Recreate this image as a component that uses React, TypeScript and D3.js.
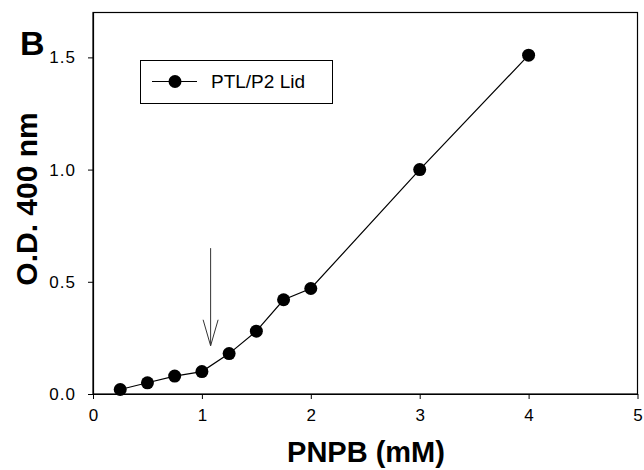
import React, { useRef, useEffect } from "react";
import * as d3 from "d3";

// PNPB concentration (mM) and absorbance
const pnpb = [0.25, 0.5, 0.75, 1.0, 1.25, 1.5, 1.75, 2.0, 3.0, 4.0];
const od400 = [0.02, 0.05, 0.08, 0.1, 0.18, 0.28, 0.42, 0.47, 1.0, 1.51];
const xTicks = [0, 1, 2, 3, 4, 5];
const yTicks = [0, 0.5, 1.0, 1.5];
const seriesName = "PTL/P2 Lid";
// arrow marks the break near 1.08 mM
const arrowX = 1.08;
const arrowFrom = 0.65;
const arrowTo = 0.215;

const App = () => {
  const svgRef = useRef(null);

  useEffect(() => {
    const width = 644;
    const height = 470;
    const margin = { top: 12.5, right: 6.5, bottom: 76, left: 93 };
    const font = "Arial, 'Liberation Sans', Helvetica, sans-serif";

    const svg = d3.select(svgRef.current);
    svg.selectAll("*").remove();
    svg.attr("width", width).attr("height", height);

    const x = d3.scaleLinear().domain([0, 5]).range([margin.left, width - margin.right]);
    const y = d3.scaleLinear().domain([0, 1.7]).range([height - margin.bottom, margin.top]);

    // frame
    svg
      .append("rect")
      .attr("x", x(0))
      .attr("y", y(1.7))
      .attr("width", x(5) - x(0))
      .attr("height", y(0) - y(1.7))
      .attr("fill", "none")
      .attr("stroke", "#000")
      .attr("stroke-width", 1.2);

    // x axis
    const xAxis = svg
      .append("g")
      .attr("transform", `translate(0, ${y(0)})`)
      .call(d3.axisBottom(x).tickValues(xTicks).tickFormat(d3.format("d")).tickSize(5).tickSizeOuter(0).tickPadding(10));
    xAxis.select(".domain").attr("stroke-width", 1.2);
    xAxis.selectAll("text").attr("font-family", font).attr("font-size", 17).attr("fill", "#000");

    // y axis
    const yAxis = svg
      .append("g")
      .attr("transform", `translate(${x(0)}, 0)`)
      .call(d3.axisLeft(y).tickValues(yTicks).tickFormat(d3.format(".1f")).tickSize(5).tickSizeOuter(0).tickPadding(12));
    yAxis.select(".domain").attr("stroke-width", 1.2);
    yAxis
      .selectAll("text")
      .attr("font-family", font)
      .attr("font-size", 17)
      .attr("letter-spacing", 1)
      .attr("fill", "#000");

    const data = pnpb.map((v, i) => ({ x: v, y: od400[i] }));

    // line
    const line = d3
      .line()
      .x((d) => x(d.x))
      .y((d) => y(d.y));
    svg
      .append("path")
      .datum(data)
      .attr("d", line)
      .attr("fill", "none")
      .attr("stroke", "#000")
      .attr("stroke-width", 1.2);

    // points
    svg
      .selectAll(".dot")
      .data(data)
      .enter()
      .append("circle")
      .attr("class", "dot")
      .attr("cx", (d) => x(d.x))
      .attr("cy", (d) => y(d.y))
      .attr("r", 6.5)
      .attr("fill", "#000");

    // arrow
    const ax = x(arrowX);
    const ay0 = y(arrowFrom);
    const ay1 = y(arrowTo);
    const arrow = svg.append("g").attr("stroke", "#333").attr("stroke-width", 1).attr("fill", "none");
    arrow.append("line").attr("x1", ax).attr("x2", ax).attr("y1", ay0).attr("y2", ay1);
    arrow
      .append("path")
      .attr("d", `M${ax - 7.5},${ay1 - 26} L${ax},${ay1} L${ax + 7.5},${ay1 - 26}`);

    // legend
    const legend = svg.append("g");
    legend
      .append("rect")
      .attr("x", 140.5)
      .attr("y", 60.5)
      .attr("width", 192)
      .attr("height", 43)
      .attr("fill", "#fff")
      .attr("stroke", "#000")
      .attr("stroke-width", 1);
    legend
      .append("line")
      .attr("x1", 152)
      .attr("x2", 197)
      .attr("y1", 81.5)
      .attr("y2", 81.5)
      .attr("stroke", "#000")
      .attr("stroke-width", 1.2);
    legend.append("circle").attr("cx", 175).attr("cy", 81.5).attr("r", 6.5).attr("fill", "#000");
    legend
      .append("text")
      .attr("x", 211)
      .attr("y", 88)
      .attr("font-family", font)
      .attr("font-size", 19)
      .text(seriesName);

    // axis titles
    svg
      .append("text")
      .attr("x", 366)
      .attr("y", 462)
      .attr("text-anchor", "middle")
      .attr("font-family", font)
      .attr("font-weight", "bold")
      .attr("font-size", 29)
      .text("PNPB (mM)");

    svg
      .append("text")
      .attr("transform", `translate(37, 199) rotate(-90)`)
      .attr("text-anchor", "middle")
      .attr("font-family", font)
      .attr("font-weight", "bold")
      .attr("font-size", 30)
      .text("O.D. 400 nm");

    // panel letter
    svg
      .append("text")
      .attr("x", 20)
      .attr("y", 55)
      .attr("font-family", font)
      .attr("font-weight", "bold")
      .attr("font-size", 34)
      .text("B");
  }, []);

  return (
    <div style={{ position: "absolute", left: 0, top: 0, background: "#fff" }}>
      <svg ref={svgRef} style={{ display: "block" }}></svg>
    </div>
  );
};

export default App;
